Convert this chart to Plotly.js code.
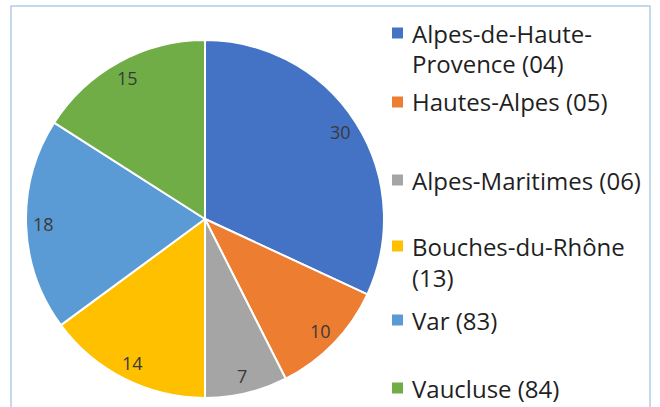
<!DOCTYPE html>
<html>
<head>
<meta charset="utf-8">
<script src="https://cdn.plot.ly/plotly-3.0.1.min.js"></script>
<style>html,body{margin:0;padding:0;background:#fff;}#chart{width:660px;height:407px;}</style>
</head>
<body>
<div id="chart"></div>
<script>
// ---- data ----
const categories = ["Alpes-de-Haute-Provence (04)", "Hautes-Alpes (05)", "Alpes-Maritimes (06)", "Bouches-du-Rhône (13)", "Var (83)", "Vaucluse (84)"];
const legendLines = [["Alpes-de-Haute-", "Provence (04)"], ["Hautes-Alpes (05)"], ["Alpes-Maritimes (06)"], ["Bouches-du-Rhône", "(13)"], ["Var (83)"], ["Vaucluse (84)"]];
const values = [30, 10, 7, 14, 18, 15];
const colors = ["#4472C4", "#ED7D31", "#A5A5A5", "#FFC000", "#5B9BD5", "#70AD47"];

// ---- layout constants (pixels) ----
const W = 660, H = 407;
const cx = 205, cy = 219, R = 179;
const legendFirstLineY = [33, 102, 180, 246, 320, 388]; // first-line centres of legend entries
const lineStep = 31;

const px = x => x / W, py = y => 1 - y / H;
const FONT = "'Open Sans', Lato, sans-serif";

const total = values.reduce((a, b) => a + b, 0);
const annotations = [];
const shapes = [];
let cum = 0;
values.forEach((v, i) => {
  const mid = (cum + v / 2) / total * 2 * Math.PI;
  cum += v;
  const rr = 0.9 * R;
  annotations.push({
    x: px(cx + rr * Math.sin(mid)), y: py(cy - rr * Math.cos(mid)),
    xref: "paper", yref: "paper", showarrow: false,
    text: String(v), font: {family: FONT, size: 18, color: "#3a3a3a"},
    xanchor: "center", yanchor: "middle"
  });
});

legendLines.forEach((lines, i) => {
  const y0 = legendFirstLineY[i];
  shapes.push({type: "rect", xref: "paper", yref: "paper",
    x0: px(392), x1: px(403), y0: py(y0 + 5.5), y1: py(y0 - 5.5),
    fillcolor: colors[i], line: {width: 0}});
  lines.forEach((t, k) => {
    annotations.push({
      x: px(410), y: py(y0 + k * lineStep), xref: "paper", yref: "paper", showarrow: false,
      text: t, align: "left", xanchor: "left", yanchor: "middle",
      font: {family: FONT, size: 24, color: "#1f1f1f"}
    });
  });
});

shapes.push({type: "rect", xref: "paper", yref: "paper",
  x0: px(11), x1: px(650), y0: py(H + 10), y1: py(6),
  line: {color: "#B4CDE4", width: 1.5}, fillcolor: "rgba(0,0,0,0)", layer: "below"});

const trace = {
  type: "pie",
  labels: categories,
  values: values,
  sort: false,
  direction: "clockwise",
  rotation: 0,
  textinfo: "none",
  hoverinfo: "label+value",
  marker: {colors: colors, line: {color: "#ffffff", width: 2}},
  domain: {x: [px(cx - R), px(cx + R)], y: [py(cy + R), py(cy - R)]},
  showlegend: false
};

Plotly.newPlot("chart", [trace], {
  width: W, height: H,
  margin: {l: 0, r: 0, t: 0, b: 0},
  paper_bgcolor: "#ffffff",
  showlegend: false,
  annotations: annotations,
  shapes: shapes
}, {displayModeBar: false, staticPlot: true});
</script>
</body>
</html>
